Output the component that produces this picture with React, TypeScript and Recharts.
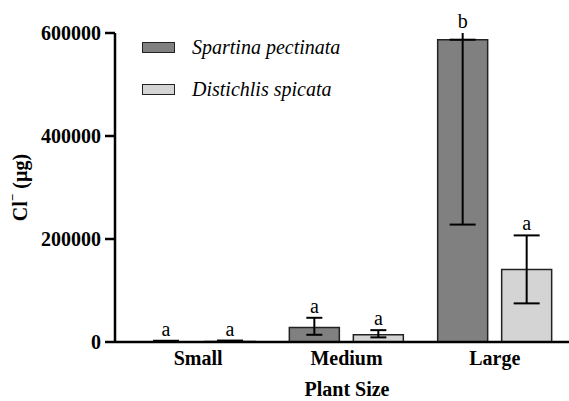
import React from 'react';
import { BarChart, Bar, XAxis, YAxis, ErrorBar, LabelList } from 'recharts';

const categories = ['Small', 'Medium', 'Large'];
const spartinaValues = [600, 28000, 587000];
const spartinaErrors: [number, number][] = [[500, 1800], [14000, 19000], [359000, 359000]];
const spartinaLetters = ['a', 'a', 'b'];
const distichlisValues = [800, 14000, 141000];
const distichlisErrors: [number, number][] = [[700, 2000], [5000, 9000], [66000, 66000]];
const distichlisLetters = ['a', 'a', 'a'];
const narrowCapCategories = ['Medium'];
const yTicks = [0, 200000, 400000, 600000];
const yMax = 600000;

const seriesNames = ['Spartina pectinata', 'Distichlis spicata'];
const seriesColors = ['#808080', '#d4d4d4'];

const FONT = '"Liberation Serif", "Times New Roman", serif';

// Errors that run past the top of the axis are drawn as a cap-less stem up to the axis top
const splitError = (value: number, err: [number, number]) => {
  const room = yMax - value;
  if (err[1] <= room) return { capped: err, stem: undefined };
  return { capped: [err[0], 0] as [number, number], stem: [0, room] as [number, number] };
};

const data = categories.map((c, i) => {
  const narrow = narrowCapCategories.includes(c);
  const s = splitError(spartinaValues[i], spartinaErrors[i]);
  const d = splitError(distichlisValues[i], distichlisErrors[i]);
  return {
    category: c,
    spartina: spartinaValues[i],
    distichlis: distichlisValues[i],
    spartinaErrWide: narrow ? undefined : s.capped,
    spartinaErrNarrow: narrow ? s.capped : undefined,
    spartinaErrStem: s.stem,
    distichlisErrWide: narrow ? undefined : d.capped,
    distichlisErrNarrow: narrow ? d.capped : undefined,
    distichlisErrStem: d.stem,
  };
});

const makeLetterLabel = (letters: string[], errors: [number, number][]) => (props: any) => {
  const { x, y, width, height, value, index } = props;
  if (value == null || !height) return null;
  const ratio = height / value;
  const bottom = y + height;
  const top = bottom - yMax * ratio;
  const errTop = Math.max(y - errors[index][1] * ratio, top);
  return (
    <text
      x={x + width / 2}
      y={errTop - 5}
      textAnchor="middle"
      fontFamily={FONT}
      fontSize={20}
      fill="#000"
    >
      {letters[index]}
    </text>
  );
};

const LegendBox = () => (
  <div
    style={{
      position: 'absolute',
      left: 142,
      top: 26,
      fontFamily: FONT,
      fontStyle: 'italic',
      fontSize: 20,
      color: '#000',
    }}
  >
    {seriesNames.map((n, i) => (
      <div key={n} style={{ display: 'flex', alignItems: 'center', height: 42 }}>
        <div
          style={{
            width: 31,
            height: 9,
            background: seriesColors[i],
            border: '1.5px solid #222',
            marginRight: 17,
          }}
        />
        <span style={{ lineHeight: '20px', whiteSpace: 'nowrap', fontFamily: FONT }}>{n}</span>
      </div>
    ))}
  </div>
);

const YLabel = (props: any) => {
  const vb = props.viewBox || { x: 0, y: 0, width: 0, height: 0 };
  const cx = vb.x + 20;
  const cy = vb.y + vb.height / 2;
  return (
    <text
      x={cx}
      y={cy}
      transform={`rotate(-90 ${cx} ${cy})`}
      textAnchor="middle"
      dominantBaseline="central"
      fontFamily={FONT}
      fontSize={20}
      fontWeight="bold"
      fill="#000"
    >
      <tspan>Cl</tspan>
      <tspan dy={-8} fontSize={13}>−</tspan>
      <tspan dy={8}> (µg)</tspan>
    </text>
  );
};

export default function App() {
  const tickStyle = { fontFamily: FONT, fontSize: 20, fontWeight: 'bold' as const, fill: '#000' };
  return (
    <div style={{ position: 'absolute', left: 0, top: 0, width: 569, height: 401, background: '#fff' }}>
      <BarChart
        width={569}
        height={401}
        data={data}
        margin={{ top: 33, right: 0, left: 0, bottom: 29 }}
        barSize={50}
        barGap={14}
      >
        <XAxis
          dataKey="category"
          height={30}
          padding={{ left: 9, right: 0 }}
          tickLine={false}
          tickSize={6}
          tickMargin={3}
          axisLine={{ stroke: '#000', strokeWidth: 2.5 }}
          tick={tickStyle}
          label={{ value: 'Plant Size', position: 'bottom', offset: 10, dx: 5, style: { ...tickStyle } }}
        />
        <YAxis
          width={115}
          domain={[0, yMax]}
          ticks={yTicks}
          allowDataOverflow
          tickSize={10}
          tickMargin={4}
          tickLine={{ stroke: '#000', strokeWidth: 2.5 }}
          axisLine={{ stroke: '#000', strokeWidth: 2.5 }}
          tick={tickStyle}
          label={<YLabel />}
        />
        <Bar
          dataKey="spartina"
          name={seriesNames[0]}
          fill={seriesColors[0]}
          stroke="#222"
          strokeWidth={1.5}
          isAnimationActive={false}
        >
          <ErrorBar dataKey="spartinaErrWide" width={13} stroke="#000" strokeWidth={2} isAnimationActive={false} />
          <ErrorBar dataKey="spartinaErrNarrow" width={8} stroke="#000" strokeWidth={2} isAnimationActive={false} />
          <ErrorBar dataKey="spartinaErrStem" width={0} stroke="#000" strokeWidth={2} isAnimationActive={false} />
          <LabelList dataKey="spartina" content={makeLetterLabel(spartinaLetters, spartinaErrors)} />
        </Bar>
        <Bar
          dataKey="distichlis"
          name={seriesNames[1]}
          fill={seriesColors[1]}
          stroke="#222"
          strokeWidth={1.5}
          isAnimationActive={false}
        >
          <ErrorBar dataKey="distichlisErrWide" width={13} stroke="#000" strokeWidth={2} isAnimationActive={false} />
          <ErrorBar dataKey="distichlisErrNarrow" width={8} stroke="#000" strokeWidth={2} isAnimationActive={false} />
          <ErrorBar dataKey="distichlisErrStem" width={0} stroke="#000" strokeWidth={2} isAnimationActive={false} />
          <LabelList dataKey="distichlis" content={makeLetterLabel(distichlisLetters, distichlisErrors)} />
        </Bar>
      </BarChart>
      <LegendBox />
    </div>
  );
}
